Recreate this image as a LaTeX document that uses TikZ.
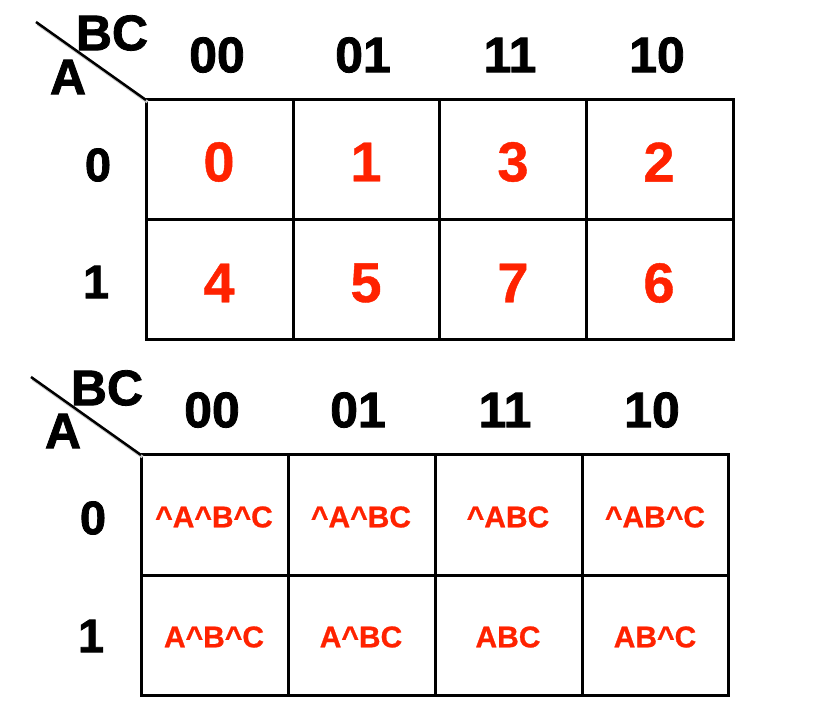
\documentclass[tikz,border=0pt]{standalone}
\usepackage{fontspec}
\setmainfont{Liberation Sans}
\newfontfamily\hvy{Liberation Sans}[BoldFeatures={FakeBold=1.6}]
\newfontfamily\mhvy{Liberation Sans}[BoldFeatures={FakeBold=0.8}]
\definecolor{kred}{HTML}{FF2200}
\begin{document}
\begin{tikzpicture}[x=1pt,y=-1pt,
  hdr/.style={font=\hvy\bfseries\fontsize{50}{50}\selectfont, inner sep=0pt},
  rowlab/.style={font=\hvy\bfseries\fontsize{47}{47}\selectfont, inner sep=0pt},
  num/.style={font=\mhvy\bfseries\fontsize{56}{56}\selectfont, text=kred, inner sep=0pt},
  term/.style={font=\mhvy\bfseries\fontsize{30}{30}\selectfont, text=kred, inner sep=0pt},
  grid/.style={line width=3pt, line cap=rect},
  diag/.style={line width=2.5pt}]
\useasboundingbox (0,0) rectangle (836,708);
% ---------- top map ----------
\draw[grid] (146,100) rectangle (733,340);
\draw[grid] (146,220) -- (733,220);
\foreach \x in {293,439,586} \draw[grid] (\x,100) -- (\x,340);
\coordinate (d1s) at (36,22);
\coordinate (d1e) at (146,100);
\draw[gray!40,line width=3pt] ([shift={(1.5,2)}]d1s) -- ([shift={(1.5,2)}]d1e);
\draw[diag] (d1s) -- (d1e);
\node[hdr] (bc1) at (112,33) {BC};
\node[hdr] (a1) at (68,77) {A};
\node[hdr] (c00) at (217,55) {00};
\node[hdr] (c01) at (363,55) {01};
\node[hdr] (c11) at (510,55) {11};
\node[hdr] (c10) at (657,55) {10};
\node[rowlab] (r0) at (98,165) {0};
\node[rowlab] (r1) at (96,282) {1};
\node[num] (m0) at (219,162) {0};
\node[num] (m1) at (366,162) {1};
\node[num] (m3) at (513,162) {3};
\node[num] (m2) at (659,162) {2};
\node[num] (m4) at (219,283) {4};
\node[num] (m5) at (366,283) {5};
\node[num] (m7) at (513,283) {7};
\node[num] (m6) at (659,283) {6};
% ---------- bottom map ----------
\draw[grid] (141,455) rectangle (728,695);
\draw[grid] (141,575) -- (728,575);
\foreach \x in {288,435,582} \draw[grid] (\x,455) -- (\x,695);
\coordinate (d2s) at (31,377);
\coordinate (d2e) at (141,455);
\draw[gray!40,line width=3pt] ([shift={(1.5,2)}]d2s) -- ([shift={(1.5,2)}]d2e);
\draw[diag] (d2s) -- (d2e);
\node[hdr] (bc2) at (107,388) {BC};
\node[hdr] (a2) at (63,431) {A};
\node[hdr] (e00) at (212,410) {00};
\node[hdr] (e01) at (358,410) {01};
\node[hdr] (e11) at (505,410) {11};
\node[hdr] (e10) at (652,410) {10};
\node[rowlab] (s0) at (93,518) {0};
\node[rowlab] (s1) at (91,636) {1};
\node[term] (t0) at (214,517) {\^{}A\^{}B\^{}C};
\node[term] (t1) at (361,517) {\^{}A\^{}BC};
\node[term] (t3) at (508,517) {\^{}ABC};
\node[term] (t2) at (655,517) {\^{}AB\^{}C};
\node[term] (t4) at (214,637) {A\^{}B\^{}C};
\node[term] (t5) at (361,637) {A\^{}BC};
\node[term] (t7) at (508,637) {ABC};
\node[term] (t6) at (655,637) {AB\^{}C};
\end{tikzpicture}
\end{document}
